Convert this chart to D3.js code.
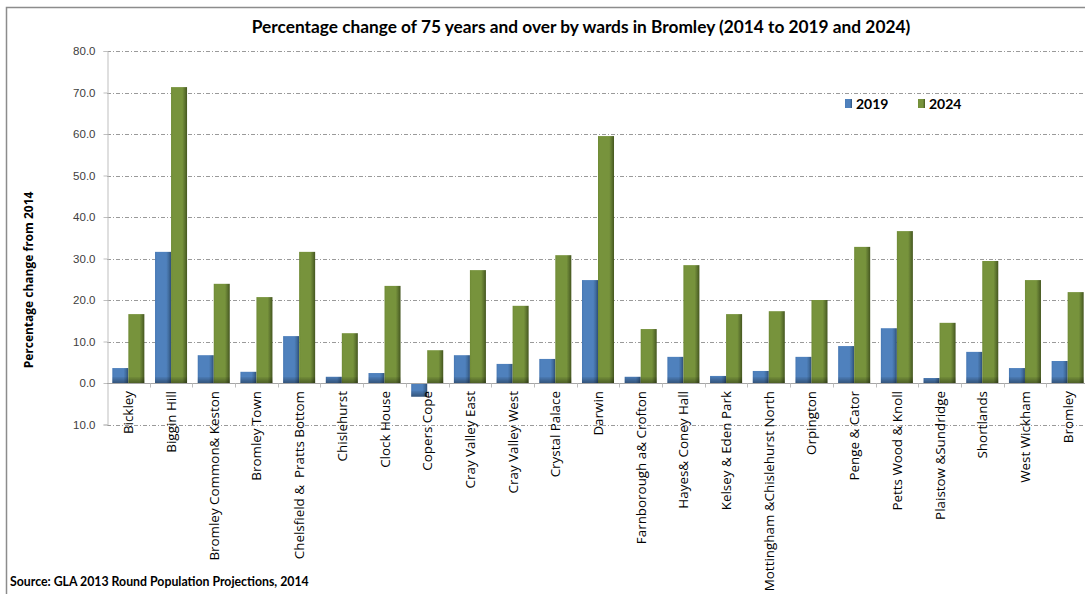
<!DOCTYPE html>
<html>
<head>
<meta charset="utf-8">
<script src="https://cdn.jsdelivr.net/npm/d3@7"></script>
<style>
  html, body { margin: 0; padding: 0; background: #fff; }
  svg { display: block; }
</style>
</head>
<body>
<svg id="chart" width="1085" height="594"></svg>
<script>
// Wards of Bromley, in the order they appear along the axis
const categories = [
  "Bickley", "Biggin Hill", "Bromley Common& Keston", "Bromley Town",
  "Chelsfield &  Pratts Bottom", "Chislehurst", "Clock House", "Copers Cope",
  "Cray Valley East", "Cray Valley West", "Crystal Palace", "Darwin",
  "Farnborough a& Crofton", "Hayes& Coney Hall", "Kelsey & Eden Park",
  "Mottingham &Chislehurst North", "Orpington", "Penge & Cator",
  "Petts Wood & Knoll", "Plaistow &Sundridge", "Shortlands", "West Wickham",
  "Bromley"
];

// Percentage change in residents aged 75+ since 2014
const values2019 = [3.6, 31.6, 6.7, 2.7, 11.3, 1.5, 2.4, -3.3, 6.7, 4.6, 5.8, 24.8,
  1.5, 6.3, 1.7, 2.9, 6.3, 8.9, 13.2, 1.2, 7.5, 3.6, 5.3];
const values2024 = [16.6, 71.3, 23.9, 20.7, 31.6, 12.0, 23.4, 7.9, 27.2, 18.6, 30.8, 59.5,
  13.0, 28.4, 16.6, 17.3, 20.0, 32.8, 36.6, 14.5, 29.4, 24.8, 21.9];

const seriesNames = ["2019", "2024"];
const yTicks = [-10, 0, 10, 20, 30, 40, 50, 60, 70, 80];
const yTickLabels = ["10.0", "0.0", "10.0", "20.0", "30.0", "40.0", "50.0", "60.0", "70.0", "80.0"];

const titleText = "Percentage change of 75 years and over by wards in Bromley (2014 to 2019 and 2024)";
const yTitleText = "Percentage change from 2014";
const sourceText = "Source: GLA 2013 Round Population Projections, 2014";

const svg = d3.select("#chart");

const plot = { left: 107, right: 1089, top: 51, bottom: 424.5 };

const x = d3.scaleBand()
  .domain(categories)
  .range([plot.left, plot.right])
  .paddingInner(0.25)
  .paddingOuter(0.125);

const xs = d3.scaleBand()
  .domain(seriesNames)
  .range([0, x.bandwidth()]);

const y = d3.scaleLinear()
  .domain([-10, 80])
  .range([plot.bottom, plot.top]);

// Gradients giving the bars their bevelled look
const defs = svg.append("defs");
function sideGradient(id, stops) {
  const g = defs.append("linearGradient").attr("id", id)
    .attr("x1", "0").attr("y1", "0").attr("x2", "1").attr("y2", "0");
  stops.forEach(([o, c]) => g.append("stop").attr("offset", o).attr("stop-color", c));
}
sideGradient("grad2019", [[0, "#4677b3"], [0.12, "#4f81bd"], [0.7, "#4f81bd"], [0.85, "#416d9f"], [1, "#2d4e77"]]);
sideGradient("grad2024", [[0, "#6f8a36"], [0.12, "#77933c"], [0.7, "#77933c"], [0.85, "#5f7630"], [1, "#44561f"]]);
const shade = defs.append("linearGradient").attr("id", "baseShade")
  .attr("x1", "0").attr("y1", "0").attr("x2", "0").attr("y2", "1");
shade.append("stop").attr("offset", 0).attr("stop-color", "#000").attr("stop-opacity", 0.05);
shade.append("stop").attr("offset", 1).attr("stop-color", "#000").attr("stop-opacity", 0.35);

// Chart frame
svg.append("path")
  .attr("d", "M6.5,594 L6.5,7.5 L1085,7.5")
  .attr("fill", "none")
  .attr("stroke", "#8c8c8c")
  .attr("stroke-width", 1.5);

// Title
svg.append("text")
  .attr("x", 581)
  .attr("y", 33)
  .attr("text-anchor", "middle")
  .attr("font-family", "Lato, 'Open Sans', sans-serif")
  .attr("font-weight", "bold")
  .attr("font-size", 17.3)
  .attr("fill", "#000")
  .text(titleText);

// Horizontal gridlines
svg.append("g")
  .selectAll("line")
  .data(yTicks.filter(d => d !== 0))
  .join("line")
  .attr("x1", plot.left)
  .attr("x2", 1085)
  .attr("y1", d => Math.round(y(d)) + 0.5)
  .attr("y2", d => Math.round(y(d)) + 0.5)
  .attr("stroke", "#9a9a9a")
  .attr("stroke-width", 1)
  .attr("stroke-dasharray", "4,2,1,2");

// Y axis
const yAxis = svg.append("g")
  .attr("transform", `translate(${plot.left + 0.5},0)`)
  .call(d3.axisLeft(y).tickValues(yTicks).tickFormat((d, i) => yTickLabels[i]).tickSize(4).tickPadding(8));
yAxis.select(".domain").attr("stroke", "#bfbfbf");
yAxis.selectAll(".tick line").attr("stroke", "#bfbfbf");
yAxis.selectAll(".tick text")
  .attr("font-family", "'Liberation Sans', sans-serif")
  .attr("font-size", 11.5)
  .attr("fill", "#404040");

// Y axis title
svg.append("text")
  .attr("transform", `translate(33,280) rotate(-90)`)
  .attr("text-anchor", "middle")
  .attr("font-family", "'Open Sans', sans-serif")
  .attr("font-weight", "bold")
  .attr("font-size", 12)
  .attr("fill", "#000")
  .text(yTitleText);

// Bars
const seriesData = [values2019, values2024];
const barLayer = svg.append("g");
seriesNames.forEach((name, si) => {
  const vals = seriesData[si];
  const g = barLayer.append("g");
  const bars = g.selectAll("g").data(categories.map((c, i) => ({ c, v: vals[i] }))).join("g");
  bars.append("rect")
    .attr("x", d => x(d.c) + xs(name))
    .attr("width", xs.bandwidth())
    .attr("y", d => y(Math.max(0, d.v)))
    .attr("height", d => Math.abs(y(d.v) - y(0)))
    .attr("fill", `url(#grad${name})`);
  bars.append("rect")
    .attr("x", d => x(d.c) + xs(name))
    .attr("width", xs.bandwidth())
    .attr("y", d => Math.max(y(d.v), y(0)) - Math.min(6, Math.abs(y(d.v) - y(0))))
    .attr("height", d => Math.min(6, Math.abs(y(d.v) - y(0))))
    .attr("fill", "url(#baseShade)");
});

// X axis line at zero, with tick marks between the ward groups
const y0 = Math.round(y(0)) + 0.5;
svg.append("line")
  .attr("x1", plot.left).attr("x2", 1085)
  .attr("y1", y0).attr("y2", y0)
  .attr("stroke", "#a6a6a6").attr("stroke-width", 1.2);
const step = x.step();
svg.append("g")
  .selectAll("line")
  .data(categories.slice(1))
  .join("line")
  .attr("x1", d => Math.round(x(d) - step * x.paddingInner() / 2) + 0.5)
  .attr("x2", d => Math.round(x(d) - step * x.paddingInner() / 2) + 0.5)
  .attr("y1", y0).attr("y2", y0 + 4)
  .attr("stroke", "#bfbfbf");

// Ward labels, rotated
svg.append("g")
  .selectAll("text")
  .data(categories)
  .join("text")
  .attr("transform", d => `translate(${x(d) + x.bandwidth() / 2 + 5},391) rotate(-90)`)
  .attr("text-anchor", "end")
  .attr("font-family", "'Open Sans', sans-serif")
  .attr("font-size", 13.4)
  .attr("fill", "#000")
  .style("white-space", "pre")
  .text(d => d);

// Legend
const legendColors = { "2019": "url(#grad2019)", "2024": "url(#grad2024)" };
const legendX = [845, 918];
const legend = svg.append("g");
seriesNames.forEach((name, i) => {
  legend.append("rect")
    .attr("x", legendX[i]).attr("y", 99)
    .attr("width", 7).attr("height", 9)
    .attr("fill", legendColors[name]);
  legend.append("text")
    .attr("x", legendX[i] + 11).attr("y", 109)
    .attr("font-family", "Lato, sans-serif")
    .attr("font-weight", "bold")
    .attr("font-size", 14)
    .attr("fill", "#000")
    .text(name);
});

// Source note
svg.append("text")
  .attr("x", 10)
  .attr("y", 586)
  .attr("font-family", "Lato, sans-serif")
  .attr("font-weight", "bold")
  .attr("font-size", 12.3)
  .attr("fill", "#000")
  .text(sourceText);
</script>
</body>
</html>
